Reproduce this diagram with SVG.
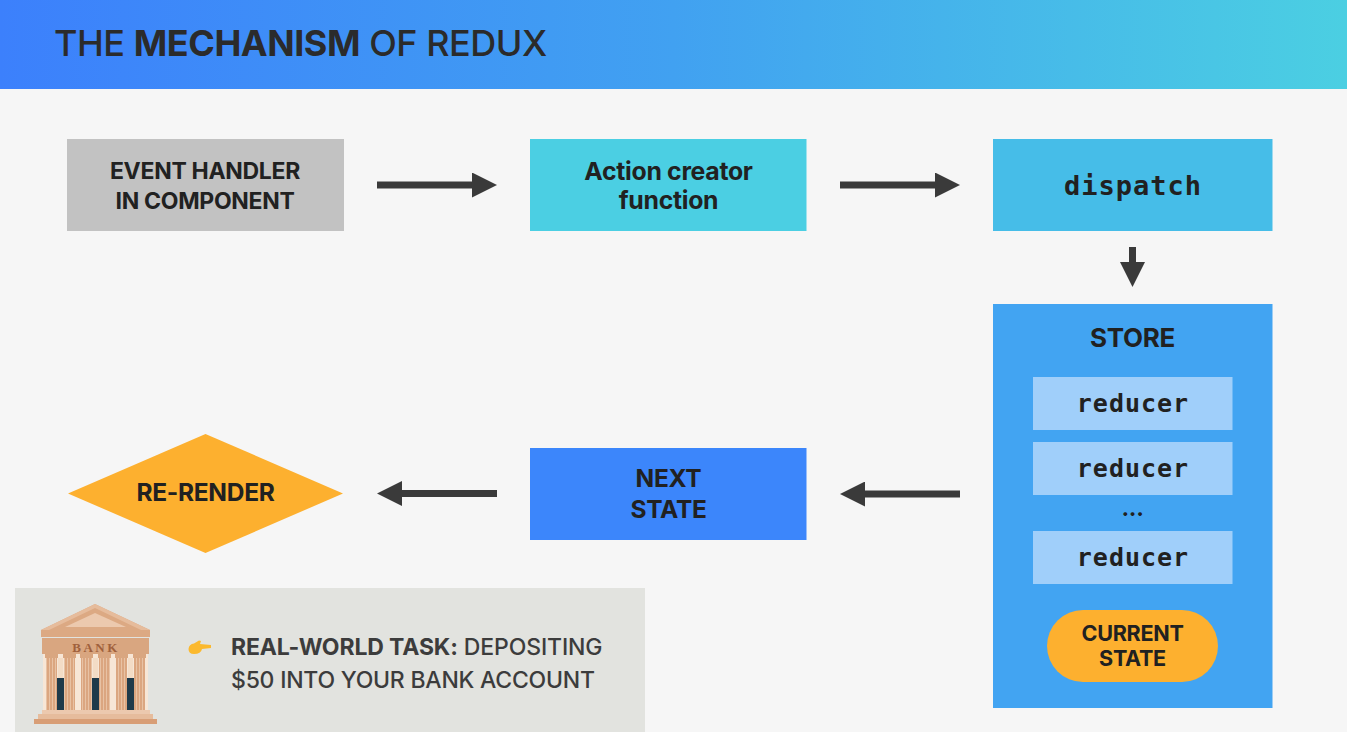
<svg xmlns="http://www.w3.org/2000/svg" width="1347" height="732" viewBox="0 0 1347 732">
<defs>
<linearGradient id="hdr" x1="0" y1="0" x2="1" y2="0"><stop offset="0" stop-color="#3c80fc"/><stop offset="0.5" stop-color="#41a1f1"/><stop offset="1" stop-color="#4bcfe2"/></linearGradient>
<marker id="ah" markerUnits="userSpaceOnUse" markerWidth="25" markerHeight="25" refX="13" refY="12.500" orient="auto"><path d="M0 0L25 12.500L0 25Z" fill="#3a3a3a"/></marker>
<pattern id="fl" patternUnits="userSpaceOnUse" x="46" y="0" width="3" height="8"><rect width="3" height="8" fill="#dba680"/><rect width="1" height="8" fill="#e8c2a4"/></pattern>
</defs>
<style>
text{font-family:Inter,"Liberation Sans",sans-serif;fill:#212121;text-anchor:middle}
.b{font-weight:700;font-size:23px;letter-spacing:-.3px}
.l{font-size:24.500px}
.m{font-family:"DejaVu Sans Mono","Liberation Mono",monospace;font-weight:700;font-size:25px;letter-spacing:1px}
.c{stroke:#3a3a3a;stroke-width:7;fill:none;marker-end:url(#ah)}
.r{fill:#a0cffa}
.t{font-size:23px;fill:#3c3c3c;text-anchor:start;font-weight:500}
.col{fill:url(#fl)}.cap{fill:#d9a680}.lt{fill:#f7e6d6}.mid{fill:#e6bc9c}.dk{fill:#1f3a4a}
</style>
<rect width="1347" height="732" fill="#f6f6f6"/>
<g id="header"><rect width="1347" height="89" fill="url(#hdr)"/>
<text x="54" y="56" style="text-anchor:start;font-size:36px;letter-spacing:-.47px;fill:#2b2b2b;font-weight:500">THE <tspan font-weight="700">MECHANISM</tspan> OF REDUX</text></g>
<g id="connectors">
<path class="c" d="M377 185H485"/><path class="c" d="M840 185H948"/><path class="c" d="M1132.500 247V275"/>
<path class="c" d="M960 494H852"/><path class="c" d="M497 493.500H389"/>
</g>
<g id="event-handler"><rect x="67" y="139" width="277" height="92" fill="#c2c2c2"/><text class="b" x="205" y="179">EVENT HANDLER</text><text class="b" x="205" y="209">IN COMPONENT</text></g>
<g id="action-creator"><rect x="530" y="139" width="276.500" height="92" fill="#4bcfe3"/><text class="b" style="font-size:24.800px" x="668.500" y="179.500">Action creator</text><text class="b" style="font-size:24.800px" x="668.500" y="208.500">function</text></g>
<g id="dispatch"><rect x="993" y="139" width="279.500" height="92" fill="#46bde8"/><text class="m" style="font-size:27px" x="1133" y="195">dispatch</text></g>
<g id="store"><rect x="993" y="304" width="279.500" height="404" fill="#42a4f2"/><text class="b" style="font-size:26px" x="1132.500" y="347">STORE</text>
<rect class="r" x="1033" y="377" width="199.500" height="53"/><text class="m" x="1133" y="412">reducer</text>
<rect class="r" x="1033" y="442" width="199.500" height="53"/><text class="m" x="1133" y="477">reducer</text>
<text class="b" x="1132.500" y="516">...</text>
<rect class="r" x="1033" y="531" width="199.500" height="53"/><text class="m" x="1133" y="566">reducer</text>
<rect x="1047" y="610" width="171" height="72" rx="36" fill="#fdb02f"/><text class="b" style="font-size:21.600px" x="1132.500" y="641">CURRENT</text><text class="b" style="font-size:21.600px" x="1132.500" y="666">STATE</text></g>
<g id="next-state"><rect x="530" y="448" width="276.500" height="92" fill="#3c86fb"/><text class="b l" x="668.500" y="487">NEXT</text><text class="b l" x="668.500" y="518">STATE</text></g>
<g id="re-render"><path d="M205.500 434L343 493.500L205.500 553L68 493.500Z" fill="#fdb02f"/><text class="b l" x="205.500" y="501">RE-RENDER</text></g>
<g id="task"><rect x="15" y="588" width="630" height="144" fill="#e2e3df"/>
<g id="bank">
<path d="M95 604L150 630V637H41V630Z" fill="#dca983"/><path d="M95 613L126 627H65Z" fill="#ecc9ae"/><path d="M95 604L150 630H141L95 608L49 630H41Z" fill="#e6bc9c"/>
<rect x="43" y="654" width="105" height="57" class="lt"/>
<rect x="58" y="658" width="5" height="20" fill="#f3dcc6"/><rect x="93" y="658" width="5" height="20" fill="#f3dcc6"/><rect x="128" y="658" width="5" height="20" fill="#f3dcc6"/>
<rect x="42" y="638" width="107" height="16" class="cap"/>
<rect x="57" y="678" width="7" height="32" class="dk"/><rect x="92" y="678" width="7" height="32" class="dk"/><rect x="127" y="678" width="7" height="32" class="dk"/>
<g class="cap"><rect x="45" y="654" width="13" height="4"/><rect x="63" y="654" width="13" height="4"/><rect x="80" y="654" width="13" height="4"/><rect x="98" y="654" width="13" height="4"/><rect x="115" y="654" width="13" height="4"/><rect x="133" y="654" width="13" height="4"/></g>
<rect x="46" y="658" width="11" height="52" class="col"/><rect x="64" y="658" width="11" height="52" class="col"/><rect x="81" y="658" width="11" height="52" class="col"/><rect x="99" y="658" width="11" height="52" class="col"/><rect x="116" y="658" width="11" height="52" class="col"/><rect x="134" y="658" width="11" height="52" class="col"/>
<rect x="42" y="710" width="108" height="4" fill="#ecc9ae"/><rect x="38" y="714" width="115" height="5" class="mid"/><rect x="34" y="719" width="123" height="5" fill="#d89e76"/>
<text x="96" y="652" style="font-family:'Liberation Serif',serif;font-size:13px;font-weight:700;letter-spacing:2.500px;fill:#a0603c">BANK</text>
</g>
<g id="pointer"><path d="M188.500 649Q189 644 194 643.500L199 640.500L201 641L200 644L211 645V648L202 649Q201 654 194 654Q188.500 654 188.500 649Z" fill="#fbb92e"/></g>
<text class="t" x="231" y="655" style="letter-spacing:-.13px"><tspan font-weight="700">REAL-WORLD TASK:</tspan> DEPOSITING</text>
<text class="t" x="231" y="688" style="letter-spacing:-.23px">$50 INTO YOUR BANK ACCOUNT</text></g>
</svg>
